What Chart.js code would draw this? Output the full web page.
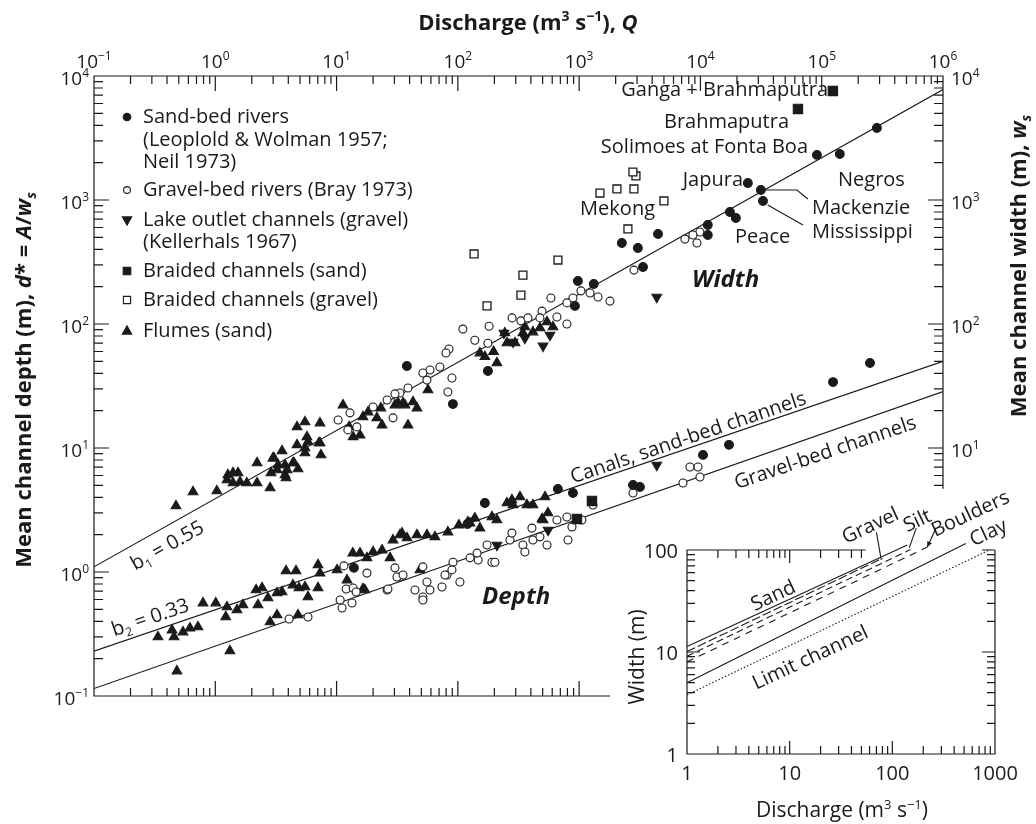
<!DOCTYPE html>
<html>
<head>
<meta charset="utf-8">
<script src="https://cdn.jsdelivr.net/npm/chart.js@4.4.0/dist/chart.umd.min.js"></script>
<style>
  body { margin: 0; background: #fff; }
  #wrap { position: relative; width: 1036px; height: 824px; }
  #main { position: absolute; left: 0; top: 0; }
  #inset { position: absolute; left: 590px; top: 480px; }
</style>
</head>
<body>
<div id="wrap">
  <canvas id="main" width="1036" height="824"></canvas>
  <canvas id="inset" width="446" height="344"></canvas>
</div>
<script>
// ===== Data (discharge Q in m3/s, width or depth in m) =====
const sandBedWidth = [
  [285000, 3810], [91300, 2310], [141000, 2350], [24600, 1370], [31500, 1205], [32800, 982],
  [17500, 800], [19600, 716], [11500, 629], [11500, 522], [4470, 532], [2250, 450], [3050, 410],
  [3360, 288], [977, 222], [1320, 210], [923, 140], [38, 45.8], [91, 22.6], [177, 41.8]
];
const sandBedDepth = [
  [250000, 48.5], [124000, 34], [17200, 10.6], [10500, 8.8], [3170, 4.85], [2780, 5.03],
  [889, 4.34], [668, 4.67], [167, 3.6], [13.9, 1.08], [120, 2.44]
];
const gravelBedWidth = [
  [9900, 552], [8670, 522], [7450, 484], [9360, 450], [2830, 272], [1430, 165], [1230, 178],
  [1035, 185], [889, 162], [1795, 153], [585, 162], [793, 148], [494, 127], [656, 114], [793, 100],
  [280, 112], [331, 106], [378, 112], [475, 112], [181, 96], [110, 91], [138, 74], [177, 70],
  [84.5, 62.9], [79.8, 58.3], [89.4, 36.7], [82.8, 28.3], [71.1, 45], [58.9, 42.6], [51.5, 40.3],
  [55.6, 35.3], [38.8, 30.5], [33.3, 27.8], [26.1, 24.4], [29.2, 17.5], [20, 21.4], [12.9, 19.2],
  [10.3, 16.8], [12.4, 14], [14.7, 14.8], [30.3, 27.3]
];
const gravelBedDepth = [
  [4.06, 0.418], [5.81, 0.434], [11.5, 1.12], [12, 0.73], [13.7, 0.743], [10.7, 0.594],
  [11.1, 0.513], [13.4, 0.562], [17.8, 0.98], [14.5, 0.69], [26.1, 0.716], [30.3, 1.08],
  [33.3, 0.911], [44.3, 0.716], [51.5, 0.629], [51.5, 1.1], [55.6, 0.83], [74, 0.757],
  [81.3, 0.946], [91.2, 1.2], [104, 0.83], [147, 1.25], [174, 1.65], [191, 1.2], [269, 1.81],
  [26.5, 0.73], [31.5, 0.911], [35.3, 0.946], [51.5, 0.594], [58.9, 0.716], [78.3, 0.946],
  [89.4, 1.04], [126, 1.3], [144, 1.42], [202, 1.2], [279, 2.06], [344, 1.65], [357, 1.45],
  [416, 1.81], [475, 1.92], [543, 1.65], [408, 2.26], [656, 2.63], [793, 2.78], [809, 1.81],
  [873, 2.31], [1054, 2.63], [1300, 3.47], [2780, 4.34], [7180, 5.22], [8200, 7.03],
  [9550, 7.03], [9910, 5.83]
];
const lakeOutletWidth = [[4365, 165], [504, 66.5], [575, 81.5], [240, 84.6], [285, 71.6], [357, 77.1]];
const lakeOutletDepth = [[4365, 7.29], [555, 2.18], [210, 1.65]];
const braidedSand = [[123600, 7570], [63700, 5420], [1275, 3.74], [959, 2.68]];
const braidedGravel = [
  [136, 367], [174, 140], [331, 171], [344, 248], [669, 328], [1484, 1138], [2050, 1227],
  [2830, 1227], [2940, 1562], [2775, 1682], [5000, 982], [2525, 584]
];
const flumesWidth = [
  [0.474, 3.41], [0.655, 4.42], [1.03, 4.5], [1.27, 6.06], [1.4, 6.29], [1.54, 6.29], [1.25, 5.52],
  [1.4, 5.22], [1.6, 5.32], [1.82, 5.22], [2.21, 5.22], [2.21, 7.57], [2.83, 4.76], [2.88, 6.29],
  [3.05, 8.3], [3.55, 9.46], [3.76, 7.29], [3.83, 5.73], [3.23, 6.65], [4.37, 7.57], [4.81, 6.77],
  [4.72, 10.6], [5.49, 10], [5.81, 11.2], [7.44, 8.78], [7.16, 11], [11.3, 22.2], [5.49, 16.2],
  [4.72, 14.8], [5.7, 12.3], [5.49, 9.12], [7.3, 15.9], [7.3, 11], [2.99, 8.3], [3.29, 7.29],
  [3.9, 6.65], [4.46, 7.57], [3.76, 6.06], [12.7, 14.8], [13.7, 12.3], [15.6, 12.7], [18.2, 19.5],
  [21.5, 17.5], [23.7, 15.3], [16.5, 17.8], [30.3, 22.2], [32.1, 23.1], [36.6, 22.2], [38.8, 15.3],
  [23.2, 21], [35.3, 23.1], [42.7, 23.5], [46, 21], [56.7, 29.4], [152, 58.3], [210, 48.5],
  [254, 70.3], [296, 70.3], [244, 84.6], [344, 84.6], [357, 94.6], [416, 86.1], [475, 92.9],
  [543, 104], [608, 94.6], [167, 54.6], [197, 59.8]
];
const flumesDepth = [
  [0.483, 0.159], [1.32, 0.231], [0.337, 0.299], [0.44, 0.34], [0.457, 0.299], [0.542, 0.328],
  [0.618, 0.353], [0.72, 0.36], [0.792, 0.562], [1.01, 0.562], [1.25, 0.522], [1.22, 0.434],
  [1.51, 0.494], [1.69, 0.542], [2.25, 0.542], [2.83, 0.395], [3.23, 0.45], [4.81, 0.45],
  [2.17, 0.716], [2.43, 0.743], [2.72, 0.617], [3.23, 0.677], [3.55, 0.69], [4.37, 0.785],
  [4.9, 0.743], [5.49, 0.757], [5.81, 0.629], [7.03, 0.743], [3.83, 1.02], [4.63, 1.02],
  [7.03, 1.14], [7.3, 0.98], [10.1, 1.04], [13.6, 1.42], [15.6, 1.42], [17.8, 1.3], [17.1, 0.716],
  [12.2, 0.861], [29.2, 1.81], [33.3, 1.99], [46, 1.99], [55.6, 1.99], [64.7, 1.92], [82.8, 2.1],
  [102, 2.39], [121, 2.53], [152, 2.26], [20, 1.45], [23.7, 1.5], [27.6, 1.3], [34.6, 2.06],
  [38.1, 1.88], [126, 2.48], [138, 2.72], [191, 2.78], [210, 2.63], [254, 3.6], [285, 3.47],
  [325, 4.03], [371, 3.47], [416, 3.47], [553, 2.99], [494, 2.68], [279, 3.81], [523, 4.03],
  [504, 2.63], [48.7, 1.04], [16.5, 0.73]
];

// fitted lines, b1 = 0.55 (width) and b2 = 0.33 (depth)
const widthFit = [[0.1, 1.1], [1e6, 7780]];
const canalFit = [[0.1, 0.23], [1e6, 50]];
const gravelFit = [[0.1, 0.115], [1e6, 28.5]];
const mackenzieLeader = [[34000, 1205], [62500, 1205], [76900, 1018]];
const mississippiLeader = [[35900, 912], [70000, 629]];

// inset: width against discharge for bank material types
const insetSand = [[1, 11.3], [140, 112]];
const insetGravel = [[1, 10.1], [80, 83]];
const insetSilt = [[1, 9.1], [150, 101]];
const insetBoulders = [[1, 8.0], [220, 107]];
const insetClay = [[1, 5.0], [520, 116]];
const insetLimit = [[1, 3.8], [900, 101]];
const gravelLeader = [[70, 150], [78, 80]];
const siltLeader = [[171, 164], [146, 105]];
const bouldersLeader = [[267, 164], [219, 107]];

const xTickExp = [-1, 0, 1, 2, 3, 4, 5, 6];
const yTickExp = [-1, 0, 1, 2, 3, 4];
const rightTickExp = [1, 2, 3, 4];
const insetXTicks = ['1', '10', '100', '1000'];
const insetYTicks = ['1', '10', '100'];

// ===== Drawing helpers =====
const INK = '#1a1a1a';
const FONT = '"Open Sans", "DejaVu Sans", sans-serif';

function toXY(arr) { return arr.map(p => ({ x: p[0], y: p[1] })); }

function fontStr(p, size, weight) {
    const s = (p.sup || p.sub) ? Math.round(size * 0.62) : size;
    return `${p.italic ? 'italic ' : ''}${weight} ${s}px ${FONT}`;
}

function drawRich(ctx, parts, x, y, size, weight, align) {
    let w = 0;
    parts.forEach(p => { ctx.font = fontStr(p, size, weight); w += ctx.measureText(p.t).width; });
    let cx = align === 'center' ? x - w / 2 : (align === 'right' ? x - w : x);
    ctx.textAlign = 'left';
    ctx.textBaseline = 'alphabetic';
    parts.forEach(p => {
        ctx.font = fontStr(p, size, weight);
        const dy = p.sup ? -size * 0.4 : (p.sub ? size * 0.22 : 0);
        ctx.fillText(p.t, cx, y + dy);
        cx += ctx.measureText(p.t).width;
    });
}

function drawRotated(ctx, parts, cx, cy, deg, size, weight) {
    ctx.save();
    ctx.translate(cx, cy);
    ctx.rotate(deg * Math.PI / 180);
    drawRich(ctx, parts, 0, size * 0.35, size, weight, 'center');
    ctx.restore();
}

function tickSet(min, max) {
    const out = [];
    for (let d = Math.floor(Math.log10(min)); d <= Math.ceil(Math.log10(max)); d++) {
        for (let m = 1; m <= 9; m++) {
            const v = m * Math.pow(10, d);
            if (v >= min * 0.999 && v <= max * 1.001) out.push({ v, major: m === 1 });
        }
    }
    return out;
}

function marker(ctx, style, x, y) {
    ctx.save();
    ctx.fillStyle = style.fill;
    ctx.strokeStyle = INK;
    ctx.lineWidth = 1.1;
    ctx.beginPath();
    if (style.shape === 'circle') {
        ctx.arc(x, y, style.r, 0, Math.PI * 2);
    } else if (style.shape === 'rect') {
        ctx.rect(x - style.r, y - style.r, style.r * 2, style.r * 2);
    } else {
        const s = style.shape === 'down' ? -1 : 1;
        ctx.moveTo(x, y - s * style.r);
        ctx.lineTo(x + style.r * 0.9, y + s * style.r * 0.6);
        ctx.lineTo(x - style.r * 0.9, y + s * style.r * 0.6);
        ctx.closePath();
    }
    ctx.fill();
    ctx.stroke();
    ctx.restore();
}

// ===== Main chart decorations =====
const legendRows = [
    { text: 'Sand-bed rivers', y: 117, m: { shape: 'circle', r: 3.8, fill: INK } },
    { text: '(Leoplold & Wolman 1957;', y: 140 },
    { text: 'Neil 1973)', y: 162 },
    { text: 'Gravel-bed rivers (Bray 1973)', y: 190, m: { shape: 'circle', r: 3.4, fill: '#fff' } },
    { text: 'Lake outlet channels (gravel)', y: 220, m: { shape: 'down', r: 5.2, fill: INK } },
    { text: '(Kellerhals 1967)', y: 242 },
    { text: 'Braided channels (sand)', y: 271, m: { shape: 'rect', r: 3.8, fill: INK } },
    { text: 'Braided channels (gravel)', y: 300, m: { shape: 'rect', r: 3.6, fill: '#fff' } },
    { text: 'Flumes (sand)', y: 331, m: { shape: 'up', r: 5.2, fill: INK } }
];

const riverLabels = [
    { t: 'Ganga + Brahmaputra', x: 828, y: 90, align: 'right' },
    { t: 'Brahmaputra', x: 789, y: 122, align: 'right' },
    { t: 'Solimoes at Fonta Boa', x: 808, y: 147, align: 'right' },
    { t: 'Japura', x: 743, y: 180, align: 'right' },
    { t: 'Negros', x: 838, y: 180, align: 'left' },
    { t: 'Mekong', x: 655, y: 209, align: 'right' },
    { t: 'Mackenzie', x: 812, y: 208, align: 'left' },
    { t: 'Mississippi', x: 812, y: 232, align: 'left' },
    { t: 'Peace', x: 735, y: 237, align: 'left' }
];

const mainDecor = {
    id: 'mainDecor',
    afterDraw(chart) {
        const { ctx, chartArea: a } = chart;
        const xs = chart.scales.x, ys = chart.scales.y;
        ctx.save();
        ctx.strokeStyle = INK;
        ctx.fillStyle = INK;
        ctx.lineWidth = 1.2;
        ctx.setLineDash([]);

        // frame (bottom stops before the inset, right stops above it)
        ctx.beginPath();
        ctx.moveTo(xs.getPixelForValue(1800), a.bottom);
        ctx.lineTo(a.left, a.bottom);
        ctx.lineTo(a.left, a.top);
        ctx.lineTo(a.right, a.top);
        ctx.lineTo(a.right, ys.getPixelForValue(4.7));
        // inward ticks
        tickSet(0.1, 1e6).forEach(t => {
            const px = xs.getPixelForValue(t.v);
            ctx.moveTo(px, a.top); ctx.lineTo(px, a.top + (t.major ? 15 : 8));
        });
        tickSet(0.1, 1000).forEach(t => {
            const px = xs.getPixelForValue(t.v);
            ctx.moveTo(px, a.bottom); ctx.lineTo(px, a.bottom - (t.major ? 15 : 8));
        });
        tickSet(0.1, 1e4).forEach(t => {
            const py = ys.getPixelForValue(t.v);
            ctx.moveTo(a.left, py); ctx.lineTo(a.left + (t.major ? 15 : 9), py);
        });
        tickSet(5, 1e4).forEach(t => {
            const py = ys.getPixelForValue(t.v);
            ctx.moveTo(a.right, py); ctx.lineTo(a.right - (t.major ? 15 : 9), py);
        });
        ctx.stroke();

        // tick labels
        const sup = e => [{ t: '10' }, { t: e < 0 ? '\u2212' + (-e) : String(e), sup: true }];
        xTickExp.forEach(e => drawRich(ctx, sup(e), xs.getPixelForValue(Math.pow(10, e)), 68, 19, 400, 'center'));
        yTickExp.forEach(e => drawRich(ctx, sup(e), 89, ys.getPixelForValue(Math.pow(10, e)) + 9, 19, 400, 'right'));
        rightTickExp.forEach(e => drawRich(ctx, sup(e), 951, ys.getPixelForValue(Math.pow(10, e)) + 9, 19, 400, 'left'));

        // axis titles
        drawRich(ctx, [{ t: 'Discharge (m' }, { t: '3', sup: true }, { t: ' s' }, { t: '\u22121', sup: true },
            { t: '), ' }, { t: 'Q', italic: true }], 528, 30, 22, 700, 'center');
        drawRotated(ctx, [{ t: 'Mean channel depth (m), ' }, { t: 'd', italic: true }, { t: '* = ' },
            { t: 'A', italic: true }, { t: '/' }, { t: 'w', italic: true }, { t: 's', italic: true, sub: true }],
            23, 380, -90, 22, 700);
        drawRotated(ctx, [{ t: 'Mean channel width (m), ' }, { t: 'w', italic: true },
            { t: 's', italic: true, sub: true }], 1018, 266, -90, 22, 700);

        // legend
        legendRows.forEach(r => {
            if (r.m) marker(ctx, r.m, 127, r.y);
            ctx.fillStyle = INK;
            ctx.font = `400 20px ${FONT}`;
            ctx.textAlign = 'left';
            ctx.textBaseline = 'middle';
            ctx.fillText(r.text, 143, r.y);
        });

        // river names
        riverLabels.forEach(l => {
            ctx.font = `400 20px ${FONT}`;
            ctx.textAlign = l.align;
            ctx.textBaseline = 'middle';
            ctx.fillText(l.t, l.x, l.y);
        });
        ctx.font = `italic 700 24px ${FONT}`;
        ctx.textAlign = 'left';
        ctx.fillText('Width', 692, 280);
        ctx.fillText('Depth', 482, 597);

        // labels along the fitted lines
        drawRotated(ctx, [{ t: 'Canals, sand-bed channels' }], 688, 437, -18.8, 20, 400);
        drawRotated(ctx, [{ t: 'Gravel-bed channels' }], 825, 452, -18.8, 20, 400);
        drawRotated(ctx, [{ t: 'b' }, { t: '1', sub: true }, { t: ' = 0.55' }], 167, 545, -29.3, 20, 400);
        drawRotated(ctx, [{ t: 'b' }, { t: '2', sub: true }, { t: ' = 0.33' }], 150, 617, -18.8, 20, 400);
        ctx.restore();
    }
};

function pointSet(data, style, radius, fill, extra) {
    return Object.assign({
        data: toXY(data), showLine: false, pointStyle: style, pointRadius: radius,
        pointBackgroundColor: fill, pointBorderColor: INK, pointBorderWidth: 1.1
    }, extra || {});
}

function lineSet(data, dash, extra) {
    return Object.assign({
        data: toXY(data), showLine: true, pointRadius: 0, borderColor: INK,
        borderWidth: 1.1, borderDash: dash || [], fill: false
    }, extra || {});
}

new Chart(document.getElementById('main'), {
    type: 'scatter',
    data: {
        datasets: [
            pointSet(sandBedWidth, 'circle', 4.4, INK),
            pointSet(sandBedDepth, 'circle', 4.4, INK),
            pointSet(braidedSand, 'rect', 6.6, INK),
            pointSet(braidedGravel, 'rect', 5.6, '#fff', { pointBorderWidth: 1.3 }),
            pointSet(lakeOutletWidth, 'triangle', 5.6, INK, { pointRotation: 180 }),
            pointSet(lakeOutletDepth, 'triangle', 5.6, INK, { pointRotation: 180 }),
            pointSet(gravelBedWidth, 'circle', 4.0, '#fff'),
            pointSet(gravelBedDepth, 'circle', 4.0, '#fff'),
            pointSet(flumesWidth, 'triangle', 5.6, INK),
            pointSet(flumesDepth, 'triangle', 5.6, INK),
            lineSet(widthFit),
            lineSet(canalFit),
            lineSet(gravelFit),
            lineSet(mackenzieLeader),
            lineSet(mississippiLeader)
        ]
    },
    options: {
        responsive: false,
        animation: false,
        events: [],
        layout: { padding: { left: 94, top: 76, right: 93, bottom: 128 } },
        plugins: { legend: { display: false }, tooltip: { enabled: false } },
        scales: {
            x: { type: 'logarithmic', min: 0.1, max: 1e6, display: false },
            y: { type: 'logarithmic', min: 0.1, max: 1e4, display: false }
        }
    },
    plugins: [mainDecor]
});

// ===== Inset chart =====
const insetDecor = {
    id: 'insetDecor',
    afterDraw(chart) {
        const { ctx, chartArea: a } = chart;
        const xs = chart.scales.x, ys = chart.scales.y;
        ctx.save();
        ctx.strokeStyle = INK;
        ctx.fillStyle = INK;
        ctx.lineWidth = 1.2;
        ctx.setLineDash([]);
        ctx.beginPath();
        ctx.moveTo(xs.getPixelForValue(55), a.top);
        ctx.lineTo(a.left, a.top);
        ctx.lineTo(a.left, a.bottom);
        ctx.lineTo(a.right, a.bottom);
        ctx.lineTo(a.right, a.top);
        tickSet(1, 1000).forEach(t => {
            const px = xs.getPixelForValue(t.v);
            ctx.moveTo(px, a.bottom); ctx.lineTo(px, a.bottom - (t.major ? 13 : 8));
        });
        tickSet(1, 50).forEach(t => {
            const px = xs.getPixelForValue(t.v);
            ctx.moveTo(px, a.top); ctx.lineTo(px, a.top + (t.major ? 13 : 8));
        });
        tickSet(1, 100).forEach(t => {
            const py = ys.getPixelForValue(t.v);
            ctx.moveTo(a.left, py); ctx.lineTo(a.left + (t.major ? 13 : 8), py);
            ctx.moveTo(a.right, py); ctx.lineTo(a.right - (t.major ? 13 : 8), py);
        });
        ctx.stroke();

        // arrow head on the boulders pointer
        const tip = { x: xs.getPixelForValue(bouldersLeader[1][0]), y: ys.getPixelForValue(bouldersLeader[1][1]) };
        const tail = { x: xs.getPixelForValue(bouldersLeader[0][0]), y: ys.getPixelForValue(bouldersLeader[0][1]) };
        const ang = Math.atan2(tip.y - tail.y, tip.x - tail.x);
        ctx.beginPath();
        ctx.moveTo(tip.x, tip.y);
        ctx.lineTo(tip.x - 6 * Math.cos(ang - 0.45), tip.y - 6 * Math.sin(ang - 0.45));
        ctx.lineTo(tip.x - 6 * Math.cos(ang + 0.45), tip.y - 6 * Math.sin(ang + 0.45));
        ctx.closePath();
        ctx.fill();

        ctx.font = `400 20px ${FONT}`;
        ctx.textBaseline = 'middle';
        ctx.textAlign = 'right';
        insetYTicks.forEach(t => ctx.fillText(t, a.left - 9, ys.getPixelForValue(+t) + 2));
        ctx.textAlign = 'center';
        insetXTicks.forEach(t => ctx.fillText(t, xs.getPixelForValue(+t), a.bottom + 20));

        drawRich(ctx, [{ t: 'Discharge (m' }, { t: '3', sup: true }, { t: ' s' }, { t: '\u22121', sup: true }, { t: ')' }],
            252, 337, 21, 400, 'center');
        drawRotated(ctx, [{ t: 'Width (m)' }], 47, 177, -90, 21, 400);

        drawRotated(ctx, [{ t: 'Sand' }], 183, 115, -25, 20, 400);
        drawRotated(ctx, [{ t: 'Limit channel' }], 220, 177, -25, 20, 400);
        drawRotated(ctx, [{ t: 'Gravel' }], 280, 45, -25, 20, 400);
        drawRotated(ctx, [{ t: 'Silt' }], 327, 40, -25, 20, 400);
        drawRotated(ctx, [{ t: 'Boulders' }], 380, 33, -25, 20, 400);
        drawRotated(ctx, [{ t: 'Clay' }], 398, 52, -25, 20, 400);
        ctx.restore();
    }
};

new Chart(document.getElementById('inset'), {
    type: 'scatter',
    data: {
        datasets: [
            lineSet(insetSand, [], { clip: false }),
            lineSet(insetGravel, [9, 3], { clip: false }),
            lineSet(insetSilt, [7, 4], { clip: false }),
            lineSet(insetBoulders, [7, 6], { clip: false }),
            lineSet(insetClay, [], { clip: false }),
            lineSet(insetLimit, [1.5, 2], { clip: false }),
            lineSet(gravelLeader, [], { clip: false }),
            lineSet(siltLeader, [], { clip: false }),
            lineSet(bouldersLeader, [], { clip: false })
        ]
    },
    options: {
        responsive: false,
        animation: false,
        events: [],
        layout: { padding: { left: 97, top: 70, right: 41, bottom: 70 } },
        plugins: { legend: { display: false }, tooltip: { enabled: false } },
        scales: {
            x: { type: 'logarithmic', min: 1, max: 1000, display: false },
            y: { type: 'logarithmic', min: 1, max: 100, display: false }
        }
    },
    plugins: [insetDecor]
});
</script>
</body>
</html>
